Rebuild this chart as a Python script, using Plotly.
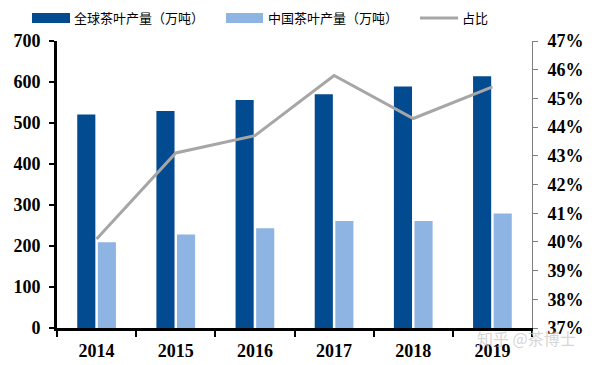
import plotly.graph_objects as go

years = ["2014", "2015", "2016", "2017", "2018", "2019"]
world_output = [521, 529, 556, 570, 589, 614]
china_output = [209, 228, 243, 261, 261, 279]
share_pct = [40.1, 43.1, 43.7, 45.8, 44.3, 45.4]

name_world = "全球茶叶产量（万吨）"
name_china = "中国茶叶产量（万吨）"
name_share = "占比"

c_dark = "#024B91"
c_light = "#8EB4E3"
c_gray = "#A6A6A6"

fig = go.Figure()
fig.add_trace(go.Bar(x=years, y=world_output, name=name_world, marker_color=c_dark,
                     marker_line_width=0, showlegend=False))
fig.add_trace(go.Bar(x=years, y=china_output, name=name_china, marker_color=c_light,
                     marker_line_width=0, showlegend=False))
fig.add_trace(go.Scatter(x=years, y=share_pct, name=name_share, mode="lines",
                         line=dict(color=c_gray, width=3), yaxis="y2", showlegend=False))

tickfont = dict(family="Liberation Serif", size=18, color="black")
# the page body has an 8px margin, so the figure is drawn 8px in from the window corner
OFF = 8
W, H = 597 - OFF, 365 - OFF
L, R, T, B = 57 - OFF, 65, 41 - OFF, 37

fig.update_layout(
    width=W, height=H,
    margin=dict(l=L, r=R, t=T, b=B, autoexpand=False),
    paper_bgcolor="white", plot_bgcolor="white",
    barmode="group", bargap=0.48, bargroupgap=0.12,
    font=dict(family="Liberation Serif", color="black"),
    xaxis=dict(type="category", showline=True, linecolor="black", linewidth=3,
               ticks="outside", tickson="boundaries", ticklen=6, tickwidth=2, tickcolor="black",
               tickfont=tickfont, tickprefix="<b>", ticksuffix="</b>", ticklabelstandoff=4,
               showgrid=False, zeroline=False),
    yaxis=dict(range=[0, 700], dtick=100, showline=True, linecolor="black", linewidth=3,
               ticks="outside", ticklen=5, tickwidth=2, tickcolor="black",
               tickfont=tickfont, tickprefix="<b>", ticksuffix="</b>", ticklabelstandoff=5,
               showgrid=False, zeroline=False),
    yaxis2=dict(range=[37, 47], dtick=1, overlaying="y", side="right",
                showline=True, linecolor="#7F7F7F", linewidth=1,
                ticks="outside", ticklen=5, tickwidth=1, tickcolor="#7F7F7F",
                tickfont=tickfont, tickprefix="<b>", ticksuffix="%</b>", ticklabelstandoff=6,
                showgrid=False, zeroline=False),
)

# manual legend (wide swatches like the reference); coordinates given in window pixels
def px_x(p):
    return (p - OFF - L) / (W - L - R)

def px_y(p):
    return 1 - (p - OFF - T) / (H - T - B)

legend_items = [
    (32, 70, c_dark, 10, name_world, 72),
    (226, 263, c_light, 10, name_china, 266),
    (420, 458, c_gray, 3, name_share, 460),
]
for x0, x1, col, th, label, tx in legend_items:
    fig.add_shape(type="rect", xref="paper", yref="paper",
                  x0=px_x(x0), x1=px_x(x1), y0=px_y(18 + th / 2), y1=px_y(18 - th / 2),
                  fillcolor=col, line_width=0)
    fig.add_annotation(xref="paper", yref="paper", x=px_x(tx), y=px_y(18),
                       xanchor="left", yanchor="middle", showarrow=False, text=label,
                       font=dict(family="Noto Sans CJK SC", size=13, color="black"))

# watermark
fig.add_annotation(xref="paper", yref="paper", x=px_x(526), y=px_y(338),
                   xanchor="center", yanchor="middle", showarrow=False, text="知乎 @茶博士",
                   font=dict(family="Noto Sans CJK SC", size=16, color="rgba(200,200,200,0.75)"))

fig.write_html("out.html")
